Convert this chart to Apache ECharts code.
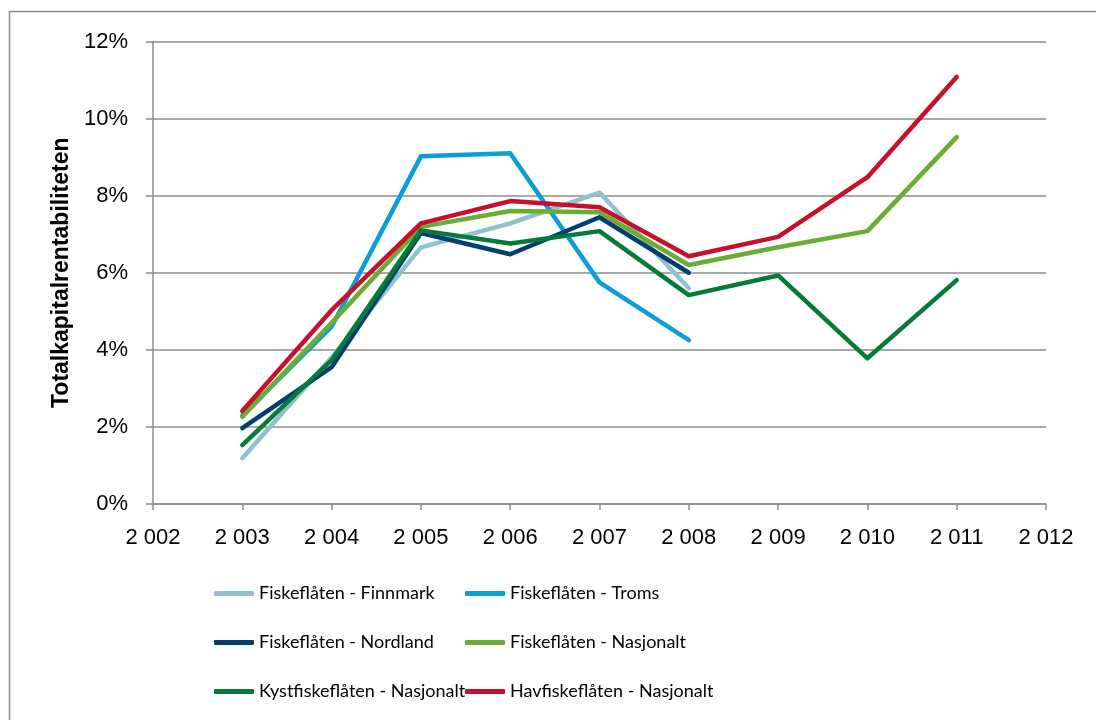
<!DOCTYPE html>
<html>
<head>
<meta charset="utf-8">
<script src="https://cdn.jsdelivr.net/npm/echarts@6/dist/echarts.min.js"></script>
<style>
  html, body { margin: 0; padding: 0; background: #fff; }
  #chart { width: 1096px; height: 720px; }
</style>
</head>
<body>
<div id="chart"></div>
<script>
const years = [2003, 2004, 2005, 2006, 2007, 2008, 2009, 2010, 2011]

const finnmark = [1.19, 3.8, 6.66, 7.28, 8.08, 5.6, null, null, null]
const troms = [2.3, 4.6, 9.02, 9.1, 5.75, 4.25, null, null, null]
const nordland = [1.97, 3.55, 7.03, 6.48, 7.44, 6.0, null, null, null]
const nasjonalt = [2.26, 4.7, 7.19, 7.6, 7.57, 6.2, 6.66, 7.08, 9.52]
const kyst = [1.53, 3.73, 7.1, 6.76, 7.08, 5.42, 5.93, 3.78, 5.81]
const hav = [2.41, 5.03, 7.28, 7.86, 7.7, 6.43, 6.93, 8.48, 11.08]

const seriesDefs = [
  { name: 'Fiskeflåten - Finnmark', data: finnmark, color: '#8fc2cc' },
  { name: 'Fiskeflåten - Troms', data: troms, color: '#0a9fd8' },
  { name: 'Fiskeflåten - Nordland', data: nordland, color: '#033f6e' },
  { name: 'Fiskeflåten - Nasjonalt', data: nasjonalt, color: '#6aad35' },
  { name: 'Kystfiskeflåten - Nasjonalt', data: kyst, color: '#067a3a' },
  { name: 'Havfiskeflåten - Nasjonalt', data: hav, color: '#c8102e' }
]

const FONT = '"Liberation Sans", Arial, sans-serif'
const LEGEND_FONT = 'Lato, sans-serif'
const chart = echarts.init(document.getElementById('chart'), null, { renderer: 'canvas' })

function legendBlock(left, names) {
  return {
    orient: 'vertical',
    left,
    top: 578,
    itemGap: 28,
    itemWidth: 40,
    itemHeight: 5,
    icon: 'roundRect',
    data: names,
    textStyle: { fontFamily: LEGEND_FONT, fontSize: 18, lineHeight: 21, color: '#000' }
  }
}

chart.setOption({
  animation: false,
  backgroundColor: '#fff',
  graphic: [{
    type: 'rect',
    shape: { x: 9.5, y: 11.5, width: 1200, height: 800 },
    style: { fill: 'none', stroke: '#8c8c8c', lineWidth: 1.5 }
  }],
  grid: { left: 153, right: 50, top: 41.5, bottom: 216 },
  legend: [
    legendBlock(209, [seriesDefs[0].name, seriesDefs[2].name, seriesDefs[4].name]),
    legendBlock(460, [seriesDefs[1].name, seriesDefs[3].name, seriesDefs[5].name])
  ],
  xAxis: {
    type: 'value',
    min: 2002,
    max: 2012,
    interval: 1,
    axisLine: { show: true, lineStyle: { color: '#8c8c8c', width: 1.5 } },
    axisTick: { show: true, length: 6, lineStyle: { color: '#8c8c8c', width: 1.5 } },
    splitLine: { show: false },
    axisLabel: {
      margin: 23,
      color: '#000',
      fontFamily: FONT,
      fontSize: 22,
      formatter: v => String(v).replace(/(\d)(\d{3})$/, '$1 $2')
    }
  },
  yAxis: {
    type: 'value',
    min: 0,
    max: 12,
    interval: 2,
    name: 'Totalkapitalrentabiliteten',
    nameLocation: 'middle',
    nameGap: 79,
    nameTextStyle: { fontFamily: FONT, fontSize: 23, fontWeight: 'bold', color: '#000' },
    axisLine: { show: true, lineStyle: { color: '#8c8c8c', width: 1.5 } },
    axisTick: { show: true, inside: false, length: 7, lineStyle: { color: '#8c8c8c', width: 1.5 } },
    splitLine: { show: true, lineStyle: { color: '#8c8c8c', width: 1.5 } },
    axisLabel: {
      margin: 25,
      color: '#000',
      fontFamily: FONT,
      fontSize: 22,
      formatter: v => v + '%'
    }
  },
  series: seriesDefs.map(s => ({
    name: s.name,
    type: 'line',
    data: years.map((y, i) => [y, s.data[i]]).filter(p => p[1] !== null),
    showSymbol: false,
    symbol: 'none',
    color: s.color,
    lineStyle: { width: 4.5, color: s.color, cap: 'round', join: 'round' }
  }))
})
</script>
</body>
</html>
